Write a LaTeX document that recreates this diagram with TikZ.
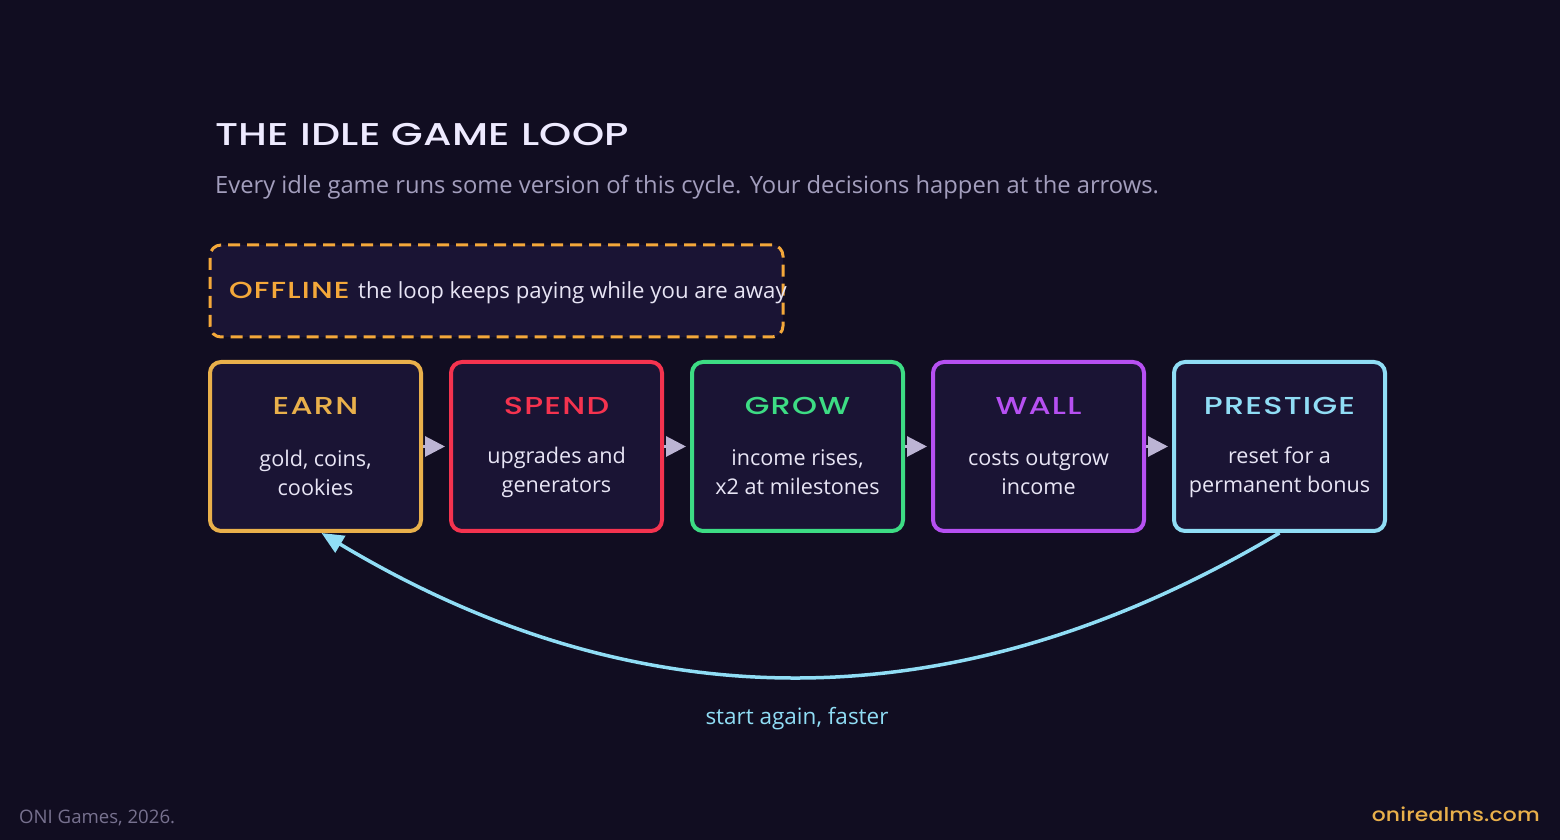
\documentclass[tikz,border=0pt]{standalone}
\usepackage{fontspec}
\setmainfont{Open Sans}
\newfontfamily\dispfont[FakeStretch=1.3,LetterSpace=5]{Poppins Medium}
\newfontfamily\headfont[FakeStretch=1.3,LetterSpace=1]{Poppins Medium}
\newfontfamily\sitefont[FakeStretch=1.15,LetterSpace=1]{Poppins Medium}
\usetikzlibrary{arrows.meta,positioning}

\definecolor{bgnight}{HTML}{110D21}
\definecolor{panel}{HTML}{1A1434}
\definecolor{earncol}{HTML}{E9B04B}
\definecolor{spendcol}{HTML}{F5334F}
\definecolor{growcol}{HTML}{3DDC84}
\definecolor{wallcol}{HTML}{B650F2}
\definecolor{prestcol}{HTML}{90DDF5}
\definecolor{offcol}{HTML}{F4A83A}
\definecolor{headtext}{HTML}{EEEAFF}
\definecolor{subtext}{HTML}{A39EBD}
\definecolor{bodytext}{HTML}{E8E5F5}
\definecolor{linkcol}{HTML}{BCB4D4}
\definecolor{foottext}{HTML}{77718F}

\begin{document}
\begin{tikzpicture}[x=1pt,y=1pt,
  stage/.style={rectangle,rounded corners=11pt,fill=panel,draw=#1,line width=4pt,minimum width=211pt,minimum height=169pt,inner sep=0pt},
  stagetitle/.style={anchor=base,text=#1,inner sep=0pt,font=\dispfont\fontsize{24.5}{28}\selectfont},
  stagebody/.style={align=center,text=bodytext,inner sep=0pt,font=\fontsize{21.6}{29}\selectfont},
  link/.style={-{Triangle[length=20pt,width=20pt]},draw=linkcol,line width=3pt,shorten >=4pt}]
\fill[bgnight] (0,0) rectangle (1560,840);
\useasboundingbox (0,0) rectangle (1560,840);

% heading
\node[anchor=base west,inner sep=0pt,text=headtext,font=\headfont\fontsize{31.5}{36}\selectfont] (title) at (215,694) {THE IDLE GAME LOOP};
\node[anchor=base west,inner sep=0pt,text=subtext,font=\fontsize{23.75}{28}\selectfont] (subtitle) at (215,646) {Every idle game runs some version of this cycle. Your decisions happen at the arrows.};

% offline banner
\node[rectangle,rounded corners=11pt,fill=panel,draw=offcol,line width=3pt,dash pattern=on 12pt off 7pt,minimum width=573pt,minimum height=92pt] (offline) at (496.5,549) {};
\node[anchor=base west,inner sep=0pt,text=offcol,font=\dispfont\fontsize{23.2}{28}\selectfont] (offlinetag) at (229,541) {OFFLINE};
\node[anchor=base west,inner sep=0pt,text=bodytext,font=\fontsize{22.2}{27}\selectfont] (offlinetext) at ([xshift=8pt]offlinetag.base east) {the loop keeps paying while you are away};

% the five stages
\node[stage=earncol] (earn) at (315.5,393.5) {};
\node[stage=spendcol,right=26pt of earn] (spend) {};
\node[stage=growcol,right=26pt of spend] (grow) {};
\node[stage=wallcol,right=26pt of grow] (wall) {};
\node[stage=prestcol,right=26pt of wall] (prestige) {};

\node[stagetitle=earncol] (earntitle) at ([yshift=31.5pt]earn.center) {EARN};
\node[stagetitle=spendcol] (spendtitle) at ([yshift=31.5pt]spend.center) {SPEND};
\node[stagetitle=growcol] (growtitle) at ([yshift=31.5pt]grow.center) {GROW};
\node[stagetitle=wallcol] (walltitle) at ([yshift=31.5pt]wall.center) {WALL};
\node[stagetitle=prestcol] (prestigetitle) at ([yshift=31.5pt]prestige.center) {PRESTIGE};

\node[stagebody] (earnbody) at ([yshift=-26pt]earn.center) {gold, coins,\\cookies};
\node[stagebody] (spendbody) at ([yshift=-26pt]spend.center) {upgrades and\\generators};
\node[stagebody] (growbody) at ([yshift=-26pt]grow.center) {income rises,\\x2 at milestones};
\node[stagebody] (wallbody) at ([yshift=-26pt]wall.center) {costs outgrow\\income};
\node[stagebody] (prestigebody) at ([yshift=-26pt]prestige.center) {reset for a\\permanent bonus};

\draw[link] (earn) -- (spend);
\draw[link] (spend) -- (grow);
\draw[link] (grow) -- (wall);
\draw[link] (wall) -- (prestige);

% back to the start
\draw[-{Triangle[length=22pt,width=19pt]},draw=prestcol,line width=3.5pt] (prestige.south) .. controls +(-320,-191) and +(320,-192) .. ([xshift=6pt]earn.south);
\node[anchor=base,inner sep=0pt,text=prestcol,font=\fontsize{22.5}{26}\selectfont] (looplabel) at (797,115) {start again, faster};

% footer
\node[anchor=base west,inner sep=0pt,text=foottext,font=\fontsize{18.6}{22}\selectfont] (credit) at (19,16) {ONI Games, 2026.};
\node[anchor=base east,inner sep=0pt,text=earncol,font=\sitefont\fontsize{19}{24}\selectfont] (site) at (1540,18) {onirealms.com};
\end{tikzpicture}
\end{document}
